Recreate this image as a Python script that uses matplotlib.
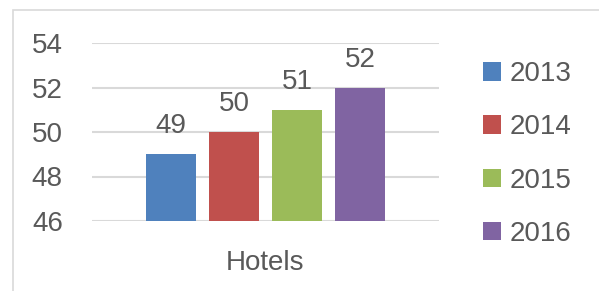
import matplotlib.pyplot as plt
from matplotlib.patches import Rectangle

category = 'Hotels'
years = ['2013', '2014', '2015', '2016']
values = [49, 50, 51, 52]
colors = ['#4F81BD', '#C0504D', '#9BBB59', '#8064A2']

plt.rcParams['font.family'] = ['Liberation Sans', 'DejaVu Sans']
txt = '#595959'
fs = 20

fig = plt.figure(figsize=(5.99, 2.91), dpi=100)

# borde del gráfico (solo visible arriba y a la izquierda)
fig.patches.append(Rectangle((13 / 599, -0.1), 1.2, 1.1 - 10 / 291,
                             transform=fig.transFigure, fill=False,
                             edgecolor='#D9D9D9', linewidth=1.2))

ax = fig.add_axes([92 / 599, 1 - 221 / 291, 347 / 599, 178 / 291])

bar_w = 50 / 347
step = 63 / 347
for i, (yr, v, c) in enumerate(zip(years, values, colors)):
    x = (i - 1.5) * step
    ax.bar(x, v - 46, width=bar_w, bottom=46, color=c, label=yr, zorder=3)
    ax.annotate(str(v), (x, v), xytext=(0, 15), textcoords='offset points',
                ha='center', va='baseline', fontsize=fs, color=txt)

ax.set_xlim(-0.5, 0.5)
ax.set_ylim(46, 54)
ax.set_yticks([46, 48, 50, 52, 54])
ax.set_xticks([0])
ax.set_xticklabels([category])
ax.tick_params(axis='y', length=0, pad=21, labelsize=fs, labelcolor=txt)
ax.tick_params(axis='x', length=0, pad=21, labelsize=fs, labelcolor=txt)
ax.grid(axis='y', color='#D9D9D9', linewidth=1.5, zorder=0)
for s in ax.spines.values():
    s.set_visible(False)

fig.legend(loc='center left', bbox_to_anchor=(483 / 599, 1 - 154 / 291),
           frameon=False, fontsize=fs, labelcolor=txt, borderpad=0,
           borderaxespad=0, handlelength=0.65, handleheight=0.65,
           handletextpad=0.32, labelspacing=0.98)

fig.savefig('out.png', dpi=100)
